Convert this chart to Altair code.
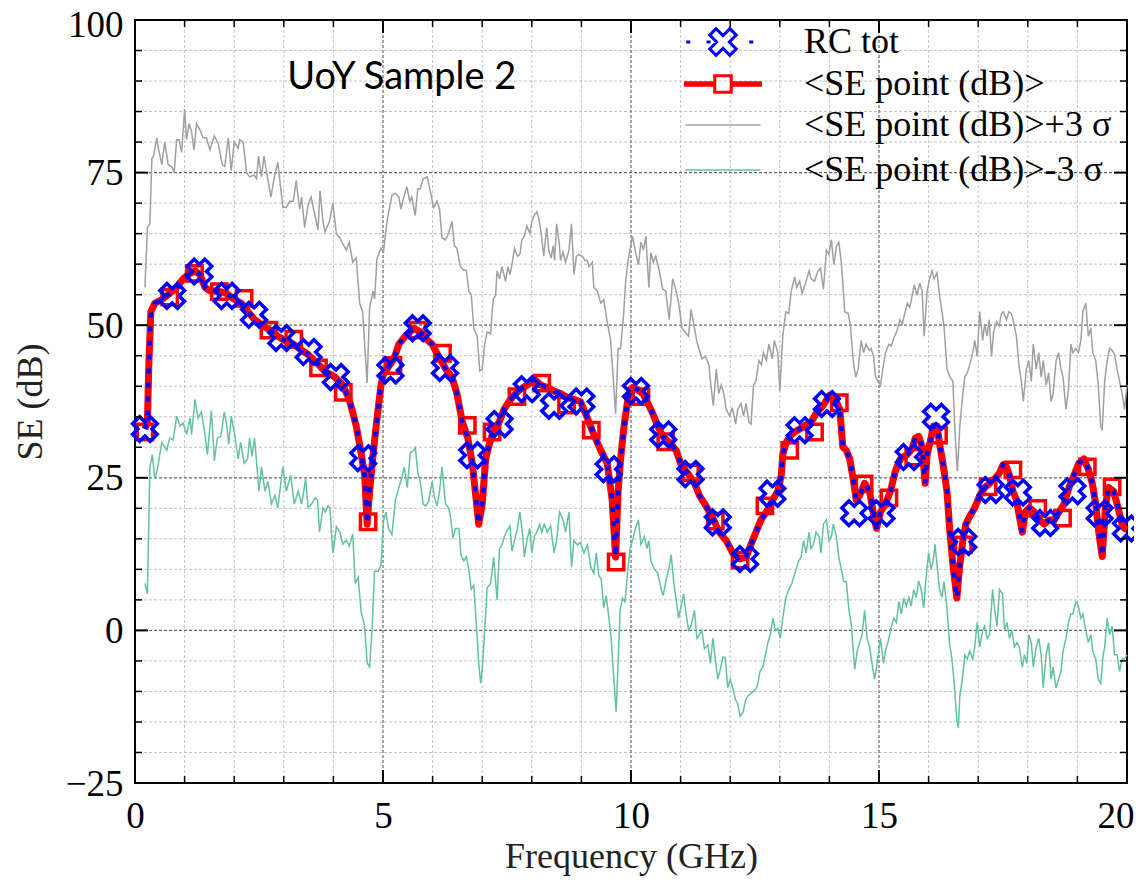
import math
import altair as alt
import pandas as pd

# ---------------- data (frequency GHz, SE dB) ----------------
UPPER = [
(0.2,56.2),(0.25,66),(0.3,66.6),(0.34,77.3),(0.37,77.6),(0.44,80.7),(0.47,79),(0.54,76.3),(0.6,80),(0.67,76.3),
(0.74,76),(0.79,75),(0.84,80.4),(0.89,80.4),(0.94,78.3),(1.0,85.4),(1.04,80.4),(1.09,83),(1.14,81.7),(1.19,78.7),
(1.24,83),(1.31,82),(1.37,80.7),(1.44,80.7),(1.51,78.7),(1.6,81),(1.68,79.7),(1.76,76.3),(1.81,76),(1.88,80.7),
(1.94,75.3),(2.0,80),(2.08,79),(2.11,80.4),(2.18,80),(2.25,75),(2.31,74.3),(2.4,74.6),(2.45,74),(2.49,77.7),
(2.55,74.3),(2.6,77.7),(2.67,74.3),(2.74,71),(2.81,74.3),(2.88,76.7),(2.98,69.3),(3.05,69.3),(3.12,70.3),(3.19,70.3),
(3.25,73.7),(3.32,69),(3.36,71),(3.42,66),(3.49,69.7),(3.55,71),(3.62,68.3),(3.69,65.6),(3.73,72),(3.79,67),
(3.83,65.3),(3.92,67),(3.99,70),(4.06,65),(4.13,64.3),(4.19,63.3),(4.26,62.3),(4.32,63.6),(4.39,60.3),(4.46,61),
(4.53,53.6),(4.59,52.2),(4.63,46.9),(4.68,40.5),(4.73,52.9),(4.8,55.6),(4.83,54.3),(4.88,61),(4.96,62.6),(5.01,62),
(5.08,67),(5.18,71.3),(5.25,71.6),(5.32,71),(5.36,69),(5.41,70.7),(5.48,72.7),(5.54,70.3),(5.58,71),(5.65,68),
(5.7,72.3),(5.75,72.3),(5.81,74),(5.89,74.3),(5.96,71.7),(6.02,69.3),(6.09,70.3),(6.14,69),(6.19,64.3),(6.26,64),
(6.32,65),(6.39,67),(6.44,63),(6.49,62.6),(6.56,59.6),(6.63,59),(6.68,59),(6.73,55.6),(6.78,55),(6.83,49.5),
(6.9,48.2),(6.95,42.5),(7.0,42.8),(7.05,46.9),(7.1,48.9),(7.17,48.6),(7.22,54.2),(7.27,54.9),(7.3,58.9),(7.35,57.6),
(7.4,59.6),(7.47,57.2),(7.52,59.6),(7.56,58.3),(7.6,59.9),(7.65,62.6),(7.71,61.3),(7.76,61.6),(7.8,64),(7.85,64.6),
(7.9,66.3),(7.96,65),(8.0,67),(8.05,68),(8.1,68.6),(8.14,67.6),(8.19,65),(8.24,61.3),(8.3,66),(8.34,62.3),
(8.39,61),(8.43,63),(8.46,60.6),(8.5,66.6),(8.55,63.6),(8.58,60.6),(8.63,62),(8.68,60.3),(8.75,62.3),(8.8,66.6),
(8.85,58.3),(8.9,61.3),(8.95,61.6),(9.02,61.3),(9.07,60.6),(9.12,60.6),(9.15,59.6),(9.22,60.3),(9.25,56.2),(9.32,55.6),
(9.39,53.6),(9.45,54.2),(9.52,50.6),(9.59,47.5),(9.64,41.5),(9.69,35.5),(9.74,46.2),(9.79,46.2),(9.85,51.6),(9.89,56.9),
(9.94,60.6),(10.03,64.6),(10.1,61.6),(10.15,59.9),(10.2,63.6),(10.25,62.3),(10.3,64.6),(10.36,56.2),(10.4,61.9),(10.45,60.3),
(10.5,61.3),(10.57,58.9),(10.64,55.9),(10.7,55.6),(10.77,50.9),(10.84,57.6),(10.9,55.9),(10.96,53.6),(11.03,49.5),(11.09,48.9),
(11.16,48.2),(11.21,52.6),(11.28,49.5),(11.33,47.2),(11.38,45.9),(11.43,44.5),(11.5,44.9),(11.57,43.5),(11.61,40.2),(11.66,36.8),
(11.72,42.8),(11.77,38.8),(11.82,40.2),(11.87,38.8),(11.92,36.2),(11.99,35.1),(12.04,36.5),(12.11,33.8),(12.15,36.2),(12.22,37.2),
(12.27,35.1),(12.32,37.2),(12.38,34.1),(12.42,33.8),(12.47,40.2),(12.52,40.9),(12.58,44.2),(12.63,43.5),(12.67,45.5),(12.73,44.2),
(12.78,46.9),(12.85,44.5),(12.89,47.5),(12.96,45.5),(13.0,39.2),(13.06,48.2),(13.12,52.2),(13.18,51.9),(13.23,55.6),(13.3,57.9),
(13.34,56.2),(13.4,57.2),(13.45,55.2),(13.52,56.9),(13.59,58.9),(13.63,57.6),(13.7,57.2),(13.77,58.9),(13.82,59.3),(13.88,55.9),
(13.94,62.3),(13.99,61.6),(14.04,64),(14.09,59.9),(14.14,62.9),(14.19,63.6),(14.24,60.3),(14.31,52.2),(14.38,51.9),(14.42,50.2),
(14.48,44.2),(14.53,41.5),(14.58,42.8),(14.64,47.5),(14.69,45.5),(14.74,46.9),(14.8,45.9),(14.84,46.2),(14.89,44.9),(14.93,41.5),
(14.98,40.8),(15.03,40.2),(15.09,43.5),(15.13,45.5),(15.2,46.9),(15.25,46.6),(15.3,47.9),(15.37,49.2),(15.42,50.9),(15.47,50.2),
(15.51,51.6),(15.57,53.6),(15.62,52.9),(15.67,54.9),(15.71,56.6),(15.77,54.9),(15.82,56.9),(15.87,55.6),(15.91,48.2),(15.97,55.6),
(16.02,57.6),(16.07,58.9),(16.11,57.6),(16.17,58.6),(16.22,54.9),(16.27,52.2),(16.31,49.9),(16.37,42.9),(16.43,41.5),(16.49,40.8),
(16.53,32.8),(16.58,26.1),(16.63,33.5),(16.69,38.8),(16.73,41.5),(16.78,42.2),(16.83,43.5),(16.89,45.5),(16.93,47.5),(16.98,44.9),
(17.03,52.2),(17.09,47.5),(17.13,50.2),(17.18,48.2),(17.22,50.9),(17.27,44.9),(17.31,48.9),(17.37,50.6),(17.42,49.9),(17.47,51.9),
(17.51,52.2),(17.57,50.9),(17.62,52.2),(17.67,51.9),(17.71,50.6),(17.77,48.2),(17.82,43.5),(17.87,40.8),(17.91,37.5),(17.97,42.8),
(18.02,44.2),(18.07,40.8),(18.11,46.9),(18.17,42.8),(18.22,45.5),(18.27,41.5),(18.31,44.2),(18.37,40.2),(18.42,42.2),(18.47,37.5),
(18.51,38.8),(18.57,44.2),(18.62,45.5),(18.67,42.8),(18.71,41.5),(18.77,36.2),(18.82,39.5),(18.87,46.9),(18.91,45.5),(18.97,46.2),
(19.02,45.5),(19.07,47.5),(19.11,52.2),(19.17,53.6),(19.22,48.2),(19.27,49.5),(19.31,45.5),(19.37,44.2),(19.42,40.2),(19.47,33.5),
(19.5,32.8),(19.55,40.8),(19.6,44.2),(19.65,46.2),(19.7,45.9),(19.75,45.2),(19.8,42.8),(19.85,40.8),(19.9,38.8),(19.95,36.2),
(20.0,40.2),
]

LOWER = [
(0.2,7.7),(0.25,6),(0.3,26.8),(0.35,28.8),(0.4,24.8),(0.46,26.8),(0.54,30.8),(0.64,29.5),(0.7,31.5),(0.77,31.2),
(0.84,35.1),(0.91,33.5),(0.97,34),(1.04,32.1),(1.11,34.8),(1.14,32.1),(1.21,37.8),(1.27,34.8),(1.34,35.8),(1.41,32.1),
(1.46,28.8),(1.54,36),(1.6,27.8),(1.66,31.5),(1.73,31.8),(1.8,35.8),(1.85,33.5),(1.89,30.5),(1.94,35.1),(2.01,32.1),
(2.08,28.1),(2.13,30.8),(2.2,27.4),(2.27,28.1),(2.31,31.5),(2.36,28.5),(2.41,31.5),(2.5,22.8),(2.55,26.8),(2.62,22.8),
(2.68,24.4),(2.75,20.7),(2.82,22.1),(2.88,20.1),(2.98,26.8),(3.05,22.8),(3.14,25.4),(3.21,20.7),(3.29,22.8),(3.36,20.7),
(3.44,24.8),(3.49,20.1),(3.56,20.7),(3.63,21.7),(3.68,21.4),(3.72,16.1),(3.79,20.1),(3.84,19.4),(3.89,20.4),(3.93,20.1),
(3.99,12.7),(4.06,17),(4.13,16.1),(4.19,14.1),(4.26,14.8),(4.32,13.8),(4.39,15.8),(4.44,7.7),(4.5,8.7),(4.56,3),
(4.63,0.7),(4.68,-5.3),(4.73,-6),(4.78,0.2),(4.83,9.7),(4.9,9.7),(4.96,10.7),(5.01,18),(5.06,19.4),(5.11,16.7),
(5.18,15.7),(5.25,21.4),(5.32,23.4),(5.38,25.1),(5.43,26.8),(5.49,23.4),(5.55,29.1),(5.62,29.5),(5.65,30.1),(5.7,25.9),
(5.75,24.4),(5.81,20.7),(5.86,20.4),(5.92,21.1),(5.99,24.4),(6.04,21.7),(6.09,20.4),(6.14,22.8),(6.19,26.8),(6.26,20.7),
(6.32,20.1),(6.36,18.7),(6.41,15.1),(6.46,16.7),(6.53,16.7),(6.57,12.4),(6.63,11.4),(6.68,12.1),(6.73,10),(6.78,6.7),
(6.83,7.4),(6.88,1.3),(6.93,-5.4),(6.97,-8.7),(7.01,-5.4),(7.05,0),(7.1,7),(7.17,7.7),(7.23,12),(7.3,5),
(7.35,13.4),(7.4,14.1),(7.45,15.4),(7.5,16.4),(7.56,17.1),(7.6,13),(7.65,14.7),(7.71,16.7),(7.76,19.4),(7.81,16.1),
(7.85,12),(7.9,14.7),(7.96,16.7),(8.0,12.7),(8.05,15.4),(8.1,16.1),(8.16,17.4),(8.2,16.1),(8.25,17.4),(8.31,16.1),
(8.38,17.1),(8.45,12.7),(8.5,14.7),(8.56,19.4),(8.63,18.1),(8.68,16.1),(8.75,19.4),(8.8,10.4),(8.85,14.7),(8.92,14),
(8.98,14.4),(9.05,12.7),(9.12,14),(9.19,10.4),(9.25,9.4),(9.3,12.7),(9.35,9),(9.4,8.4),(9.45,3.7),(9.5,5.7),
(9.55,2.4),(9.6,-1.3),(9.65,-7.4),(9.7,-13.4),(9.74,-5.4),(9.78,3.3),(9.83,5.3),(9.88,4.7),(9.93,9.4),(9.98,13.4),
(10.03,14.7),(10.09,16.7),(10.15,18.1),(10.2,14.1),(10.27,15.4),(10.32,13.4),(10.36,14.7),(10.4,11.4),(10.47,10),(10.54,9.4),
(10.61,6.7),(10.65,5.7),(10.7,8),(10.76,10),(10.81,12.4),(10.86,8),(10.91,5),(10.96,2),(11.01,4),(11.06,6),
(11.11,2.7),(11.16,0),(11.21,0.7),(11.28,3.3),(11.33,-1.3),(11.38,-0.7),(11.43,0),(11.48,-3),(11.55,-2.4),(11.6,-5.4),
(11.65,-1.3),(11.7,-4.7),(11.75,-8),(11.8,-6.4),(11.85,-4.4),(11.9,-4.4),(11.95,-9.4),(12.0,-8),(12.05,-9.4),(12.11,-11.4),
(12.15,-12),(12.2,-14.1),(12.26,-13.4),(12.31,-11.4),(12.36,-10.7),(12.41,-10.4),(12.46,-10),(12.51,-9.7),(12.55,-9),(12.6,-6.7),
(12.66,-6),(12.71,-4),(12.76,-2),(12.81,-0.7),(12.86,2),(12.91,0),(12.96,0.3),(13.01,-1.3),(13.06,2),(13.12,5.3),
(13.18,6.7),(13.23,7.4),(13.28,8.7),(13.33,10),(13.38,11.4),(13.43,12),(13.48,14.7),(13.53,12.7),(13.59,16.1),(13.63,13.4),
(13.68,14.1),(13.73,16.1),(13.79,15.4),(13.83,12.7),(13.88,17.4),(13.94,18.1),(13.99,14.7),(14.04,15.4),(14.08,17.4),(14.14,15.4),
(14.19,12),(14.24,10),(14.29,8),(14.34,8),(14.39,3.7),(14.44,1),(14.51,-6.4),(14.56,-3.4),(14.61,-2),(14.66,-0.7),
(14.71,3.3),(14.76,-1.3),(14.81,-2.7),(14.86,-5.4),(14.91,-8),(14.95,-6),(15.03,-1.3),(15.09,-5.4),(15.13,-3.4),(15.2,-1.3),
(15.25,0.7),(15.3,2),(15.35,1.3),(15.4,4.7),(15.45,2.7),(15.5,5.3),(15.55,4),(15.6,5.4),(15.65,4),(15.7,6.7),
(15.75,5.4),(15.8,8.1),(15.85,6.7),(15.9,3.7),(15.95,8.7),(16.0,12.7),(16.05,10),(16.09,11.4),(16.13,14.1),(16.17,10.7),
(16.22,6.7),(16.27,5.4),(16.31,8),(16.37,3.7),(16.42,-2),(16.47,-4.7),(16.51,-8),(16.57,-14.7),(16.6,-16),(16.63,-10.7),
(16.69,-7.4),(16.73,-4),(16.78,-4.7),(16.83,-3.4),(16.89,-4.7),(16.93,-2.7),(16.98,1.3),(17.03,-2.7),(17.09,0),(17.13,0.7),
(17.18,-1.3),(17.23,-0.7),(17.29,6.7),(17.33,3.4),(17.38,0.7),(17.43,6.7),(17.49,6),(17.53,0),(17.58,1.3),(17.63,-1.3),
(17.68,0),(17.73,-2.7),(17.78,-2),(17.83,-2.7),(17.89,-6),(17.93,-4),(17.98,-5.4),(18.02,-0.7),(18.07,-2),(18.11,-6),
(18.17,-2.7),(18.22,-1.3),(18.27,-4),(18.31,-9.4),(18.37,-4),(18.42,-2),(18.47,-8),(18.51,-6),(18.57,-9.4),(18.62,-8),
(18.67,-6.7),(18.71,-3.4),(18.77,-1.3),(18.82,1.3),(18.87,2.7),(18.91,2.7),(18.97,4.7),(19.02,4),(19.07,2),(19.11,2.7),
(19.17,0),(19.22,-2),(19.27,-0.7),(19.31,-3.4),(19.37,-4.7),(19.42,-8),(19.47,-8.7),(19.52,-4),(19.55,-2.7),(19.6,2),
(19.65,-0.7),(19.7,0.7),(19.75,-4),(19.8,-4),(19.85,-6.7),(19.9,-4.7),(19.95,-4.7),(20.0,-4),
]

MEAN = [
(0.2,33),(0.25,34),(0.28,44),(0.32,52.2),(0.4,53.6),(0.54,54.2),(0.7,55.2),(0.84,56.2),(0.97,57.6),(1.07,58.3),
(1.21,58.9),(1.31,58.3),(1.41,56.2),(1.51,55.6),(1.68,55.6),(1.84,55.2),(2.01,54.2),(2.14,53.6),(2.28,52.2),(2.41,50.9),
(2.58,49.9),(2.72,49.2),(2.88,48.2),(3.02,47.5),(3.19,46.9),(3.36,45.9),(3.49,45.2),(3.66,43.9),(3.82,42.5),(4.03,41.5),
(4.19,40.2),(4.32,37.8),(4.46,33.5),(4.55,29.5),(4.63,25.4),(4.68,17.4),(4.73,22.8),(4.8,28.8),(4.88,34.8),(4.96,40.2),
(5.01,42),(5.11,43.2),(5.22,44.5),(5.32,46.9),(5.45,48.2),(5.62,49.5),(5.75,48.9),(5.85,47.9),(5.99,46.9),(6.12,44.9),
(6.26,42.9),(6.39,41.5),(6.49,38.8),(6.6,34.1),(6.71,31.5),(6.8,27.4),(6.86,22.8),(6.93,17.4),(7.0,20.7),(7.07,28.1),
(7.13,30.1),(7.23,32.8),(7.34,34.1),(7.44,36.2),(7.54,37.5),(7.64,38.5),(7.77,39.5),(7.91,40.2),(8.04,41.2),(8.18,40.2),
(8.31,39.8),(8.45,39.2),(8.58,38.8),(8.71,38.2),(8.85,37.8),(8.98,37.5),(9.12,34.8),(9.25,32.1),(9.39,29.5),(9.52,27.4),
(9.62,21.4),(9.69,12),(9.74,22.8),(9.79,28.1),(9.86,33.5),(9.93,37.5),(9.99,39.5),(10.03,39.8),(10.12,39.5),(10.24,38.8),
(10.34,37.2),(10.44,35.5),(10.54,33.5),(10.64,31.8),(10.77,30.8),(10.91,29.5),(11.01,27.1),(11.14,25.8),(11.28,24.1),(11.38,22.1),
(11.51,20.4),(11.65,18.4),(11.78,16.1),(11.92,14.7),(12.05,12.7),(12.19,11.7),(12.32,12),(12.42,14.1),(12.52,16.1),(12.62,18.1),
(12.73,19.4),(12.86,21.4),(12.96,22.8),(13.03,25.4),(13.06,28.8),(13.13,30.8),(13.23,32.1),(13.36,32.8),(13.5,33.5),(13.63,34.1),
(13.73,35.5),(13.87,36.8),(14.0,38.5),(14.1,38.2),(14.21,36.2),(14.27,30.1),(14.34,29.5),(14.41,28.1),(14.48,24.8),(14.54,21.4),
(14.61,22.1),(14.71,24.1),(14.81,22.8),(14.91,18.1),(14.95,16.7),(15.03,19.4),(15.13,20.7),(15.23,22.8),(15.33,26.1),(15.43,28.1),
(15.57,28.8),(15.67,29.8),(15.73,31.5),(15.8,31.8),(15.87,30.1),(15.93,24.1),(15.97,28.8),(16.03,30.8),(16.1,33.5),(16.17,33.5),
(16.23,30.1),(16.3,26.8),(16.37,22.8),(16.43,16.1),(16.5,10),(16.57,5.3),(16.62,10),(16.69,14.7),(16.75,17.4),(16.83,18.7),
(16.93,20.1),(17.03,22.1),(17.13,23.4),(17.23,24.1),(17.33,24.8),(17.43,25.8),(17.5,27.1),(17.57,26.8),(17.63,25.4),(17.7,22.8),
(17.77,21.4),(17.83,18.7),(17.89,16.1),(17.95,19.4),(18.03,20.1),(18.13,19.4),(18.23,18.1),(18.33,17.4),(18.43,18.1),(18.53,18.1),
(18.63,19.4),(18.73,20.7),(18.83,23.4),(18.93,25.4),(19.03,27.4),(19.13,28.1),(19.22,26.4),(19.3,24.1),(19.37,20.7),(19.43,16.1),
(19.5,12.1),(19.57,20.7),(19.63,23.4),(19.73,22.8),(19.82,20.1),(19.9,17.4),(19.95,16.7),(20.0,16.5),
]

SQUARES = [
(0.2,32.5),(0.7,54.6),(1.2,58.5),(1.7,55.5),(2.2,54.4),(2.7,49.2),(3.2,47.7),(3.7,43),(4.2,39),(4.7,17.8),
(5.2,43.4),(5.7,49.2),(6.2,45.4),(6.7,33.6),(7.2,32.5),(7.7,38.3),(8.2,40.5),(8.7,36.9),(9.2,32.8),(9.7,11.2),
(10.2,38.3),(10.7,30.9),(11.2,25.8),(11.7,17.9),(12.2,11.5),(12.7,20.4),(13.2,29.5),(13.7,32.5),(14.2,37.3),(14.7,24),
(15.2,21.7),(15.7,28.4),(16.2,32),(16.7,14),(17.2,23.5),(17.7,26.3),(18.2,20),(18.7,18.4),(19.2,26.8),(19.7,23.5),
]

CROSSES = [
(0.2,33),(0.75,54.8),(1.3,58.8),(1.85,54.8),(2.4,51.7),(2.95,47.9),(3.5,45.6),(4.05,41.5),(4.6,28.2),(5.15,42.6),
(5.7,49.5),(6.25,43),(6.8,28.7),(7.35,33.8),(7.9,39.5),(8.45,36.8),(9.0,37.5),(9.55,26.4),(10.1,39.2),(10.65,32.1),
(11.2,25.6),(11.75,17.7),(12.3,11.7),(12.85,22.4),(13.4,32.8),(13.95,37.1),(14.5,19.2),(15.05,19.2),(15.6,28.4),(16.15,35),
(16.7,14.5),(17.25,23),(17.8,22.6),(18.35,17.6),(18.9,22.8),(19.45,19.2),(19.98,16.7),
]

SERIES_A = ["RC tot", "<SE point (dB)>"]
SERIES_B = ["<SE point (dB)>+3 σ", "<SE point (dB)>-3 σ"]
ANNOTATION = "UoY Sample 2"
ANNOT_POS = (5.38, 90.5)

X_LABELS = [0, 5, 10, 15, 20]
Y_LABELS = [-25, 0, 25, 50, 75, 100]
X_MINOR = [v for v in range(1, 20) if v % 5]
Y_MINOR = [v for v in range(-20, 100, 5) if v % 25]
X_MAJOR_GRID = [5, 10, 15]
Y_MAJOR_GRID = [0, 25, 50, 75]

# ---------------- styling ----------------
W, H = 992, 763
BLUE, RED, GRAY, GREEN = "#0000ff", "#ff0000", "#a0a0a0", "#62c39d"
SERIF = "Liberation Serif"

xs = alt.Scale(domain=[0, 20], nice=False, zero=False)
ys = alt.Scale(domain=[-25, 100], nice=False, zero=False)

X_AXIS = alt.Axis(
    values=X_LABELS, title="Frequency (GHz)", grid=False, ticks=False, tickSize=0,
    domain=False, labelPadding=15, titlePadding=5, labelFlush=False, labelOverlap=False,
    labelAlign={"condition": {"test": "datum.value >= 20", "value": "right"}, "value": "center"},
    labelOffset={"condition": {"test": "datum.value >= 20", "value": 7}, "value": 0},
)
Y_AXIS = alt.Axis(
    values=Y_LABELS, title="SE (dB)", grid=False, ticks=False, tickSize=0,
    domain=False, labelPadding=12, titlePadding=16, labelFlush=False, labelOverlap=False,
    labelOffset={"condition": {"test": "datum.value >= 100", "value": 5}, "value": 1},
)


def X(field):
    return alt.X(field, scale=xs, axis=X_AXIS)


def Y(field):
    return alt.Y(field, scale=ys, axis=Y_AXIS)


def frame(pairs):
    return pd.DataFrame(pairs, columns=["f", "v"])


def rules_x(vals, color, dash, width):
    return alt.Chart(pd.DataFrame({"f": vals})).mark_rule(
        color=color, strokeDash=dash, strokeWidth=width).encode(x=X("f:Q"))


def rules_y(vals, color, dash, width):
    return alt.Chart(pd.DataFrame({"v": vals})).mark_rule(
        color=color, strokeDash=dash, strokeWidth=width).encode(y=Y("v:Q"))


def ticks_x(vals, length, width):
    d = pd.DataFrame({"f": vals})
    bottom = alt.Chart(d).mark_rule(color="black", strokeWidth=width).encode(
        x=X("f:Q"), y=alt.value(H), y2=alt.value(H - length))
    top = alt.Chart(d).mark_rule(color="black", strokeWidth=width).encode(
        x=X("f:Q"), y=alt.value(0), y2=alt.value(length))
    return [bottom, top]


def ticks_y(vals, length, width):
    d = pd.DataFrame({"v": vals})
    left = alt.Chart(d).mark_rule(color="black", strokeWidth=width).encode(
        y=Y("v:Q"), x=alt.value(0), x2=alt.value(length))
    right = alt.Chart(d).mark_rule(color="black", strokeWidth=width).encode(
        y=Y("v:Q"), x=alt.value(W), x2=alt.value(W - length))
    return [left, right]


grid = [
    rules_x(X_MINOR, "#c4c4c4", [3, 2], 1),
    rules_y(Y_MINOR, "#c4c4c4", [3, 2], 1),
    rules_x(X_MAJOR_GRID, "#666666", [3, 2], 1.2),
    rules_y(Y_MAJOR_GRID, "#666666", [3, 2], 1.2),
]
ticks = (ticks_x(X_LABELS, 13, 2) + ticks_x(X_MINOR, 7, 1.5)
         + ticks_y(Y_LABELS, 13, 2) + ticks_y(Y_MINOR, 7, 1.5))

upper = alt.Chart(frame(UPPER)).mark_line(color=GRAY, strokeWidth=1.5).encode(x=X("f:Q"), y=Y("v:Q"))
lower = alt.Chart(frame(LOWER)).mark_line(color=GREEN, strokeWidth=1.5).encode(x=X("f:Q"), y=Y("v:Q"))
red_line = alt.Chart(frame(MEAN)).mark_line(color=RED, strokeWidth=7, strokeJoin="round").encode(
    x=X("f:Q"), y=Y("v:Q"))
red_sq = alt.Chart(frame(SQUARES)).mark_point(
    shape="square", filled=False, color=RED, strokeWidth=3.5, size=235, opacity=1).encode(
    x=X("f:Q"), y=Y("v:Q"))
blue_line = alt.Chart(frame(MEAN)).mark_line(
    color=BLUE, strokeWidth=4.5, strokeDash=[5, 9], strokeCap="butt").encode(x=X("f:Q"), y=Y("v:Q"))
blue_x = alt.Chart(frame(CROSSES)).mark_point(
    shape="cross", angle=45, filled=False, color=BLUE, strokeWidth=3.5, size=620, opacity=1).encode(
    x=X("f:Q"), y=Y("v:Q"))

note = alt.Chart(pd.DataFrame({"f": [ANNOT_POS[0]], "v": [ANNOT_POS[1]], "t": [ANNOTATION]})).mark_text(
    font="Lato", fontSize=38, color="black", align="center", baseline="middle").encode(
    x=X("f:Q"), y=Y("v:Q"), text="t:N")


# ---------------- legend symbols (unit = 15 px) ----------------
def x_shape(a, t):
    pts = [(-a, -t), (-t, -t), (-t, -a), (t, -a), (t, -t), (a, -t),
           (a, t), (t, t), (t, a), (-t, a), (-t, t), (-a, t)]
    r = [((x - y) / math.sqrt(2), (x + y) / math.sqrt(2)) for x, y in pts]
    return "M" + "L".join(f"{x:.3f},{y:.3f}" for x, y in r) + "Z"


dots = "".join(f"M{d:.2f},0h0.27" for d in (-2.45, -1.1, 1.75))
path_rc = dots + x_shape(0.95, 0.3)
path_se = ("M-2.5,-0.08H-0.62V0.08H-2.5Z M0.62,-0.08H2.5V0.08H0.62Z "
           "M-0.55,-0.55H0.55V0.55H-0.55Z")
path_line = "M-2.5,0H2.5"

leg_a = dict(orient="none", legendX=570, legendY=4, title=None, labelFont=SERIF, labelFontSize=36,
             labelColor="black", labelLimit=600, symbolSize=900, symbolStrokeWidth=3,
             labelOffset=63, rowPadding=4, padding=0)
leg_b = dict(orient="none", legendX=570, legendY=87, title=None, labelFont=SERIF, labelFontSize=36,
             labelColor="black", labelLimit=600, symbolSize=900, symbolStrokeWidth=1.5,
             symbolType=path_line, labelOffset=63, rowPadding=9, padding=0)

legend_a = alt.Chart(pd.DataFrame({"series": SERIES_A, "f": [None, None], "v": [None, None]})).mark_point(
    filled=False, opacity=1, strokeWidth=3).encode(
    x=X("f:Q"), y=Y("v:Q"),
    color=alt.Color("series:N", scale=alt.Scale(domain=SERIES_A, range=[BLUE, RED]), legend=alt.Legend(**leg_a)),
    shape=alt.Shape("series:N", scale=alt.Scale(domain=SERIES_A, range=[path_rc, path_se]), legend=alt.Legend(**leg_a)),
)
legend_b = alt.Chart(pd.DataFrame({"band": SERIES_B, "f": [None, None], "v": [None, None]})).mark_point(
    filled=False, opacity=1, strokeWidth=1.5).encode(
    x=X("f:Q"), y=Y("v:Q"),
    stroke=alt.Stroke("band:N", scale=alt.Scale(domain=SERIES_B, range=[GRAY, GREEN]), legend=alt.Legend(**leg_b)),
)

chart = alt.layer(
    *grid, upper, lower, red_line, red_sq, blue_line, blue_x, note, *ticks, legend_a, legend_b
).properties(
    width=W, height=H,
    autosize=alt.AutoSizeParams(type="none"),
    padding={"left": 127, "top": 12, "right": 7, "bottom": 97},
).configure_view(stroke="black", strokeWidth=2).configure_axis(
    labelFont=SERIF, labelFontSize=37, labelColor="black",
    titleFont=SERIF, titleFontSize=36, titleFontWeight="normal", titleColor="#222222",
)

chart.save("out.html", embed_options={"renderer": "svg", "actions": False})
